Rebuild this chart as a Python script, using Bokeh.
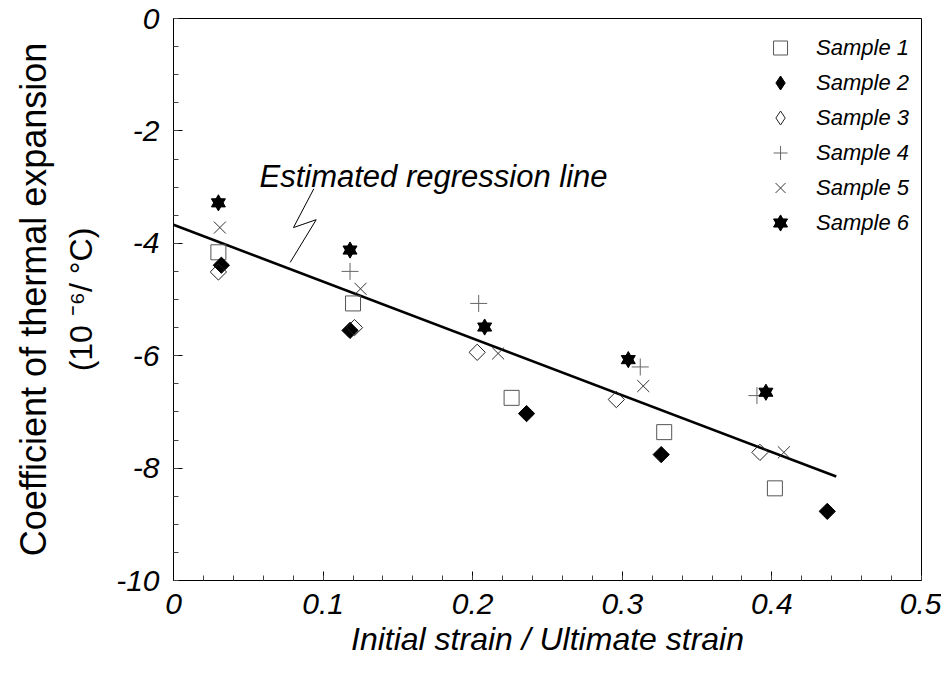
import numpy as np
from bokeh.plotting import figure
from bokeh.models import Range1d, Legend, LegendItem, Title, Label, FixedTicker
from bokeh.embed import file_html
from bokeh.resources import INLINE

# ---- data ----
s1_x = [0.030, 0.120, 0.226, 0.328, 0.402]
s1_y = [-4.16, -5.07, -6.75, -7.36, -8.36]
s2_x = [0.032, 0.118, 0.236, 0.326, 0.437]
s2_y = [-4.39, -5.55, -7.03, -7.76, -8.77]
s3_x = [0.030, 0.121, 0.203, 0.296, 0.392]
s3_y = [-4.51, -5.50, -5.94, -6.78, -7.72]
s4_x = [0.118, 0.204, 0.312, 0.390]
s4_y = [-4.50, -5.07, -6.20, -6.71]
s5_x = [0.031, 0.125, 0.217, 0.314, 0.408]
s5_y = [-3.72, -4.81, -5.96, -6.54, -7.72]
s6_x = [0.030, 0.118, 0.208, 0.304, 0.396]
s6_y = [-3.28, -4.12, -5.49, -6.07, -6.65]

reg_x = [0.0, 0.443]
reg_y = [-3.67, -8.15]

pointer_x = [0.0938, 0.0802, 0.0954, 0.0780]
pointer_y = [-3.03, -3.72, -3.58, -4.34]
note_text = "Estimated regression line"
note_x, note_y = 0.0575, -2.81

x_ticks = [0, 0.1, 0.2, 0.3, 0.4, 0.5]
x_tick_labels = ["0", "0.1", "0.2", "0.3", "0.4", "0.5"]
y_ticks = [0, -2, -4, -6, -8, -10]
y_tick_labels = ["0", "-2", "-4", "-6", "-8", "-10"]
labels = ["Sample 1", "Sample 2", "Sample 3", "Sample 4", "Sample 5", "Sample 6"]

FONT = "Liberation Sans"

p = figure(frame_width=748, frame_height=562,
           x_range=Range1d(0, 0.5), y_range=Range1d(-10, 0),
           output_backend="svg", toolbar_location=None,
           min_border_left=173, min_border_top=18,
           min_border_right=20, min_border_bottom=86,
           background_fill_color="white", border_fill_color="white")
p.grid.visible = False
p.outline_line_color = "black"
p.outline_line_width = 1

p.xaxis.ticker = FixedTicker(ticks=x_ticks,
                             minor_ticks=[round(v, 3) for v in np.arange(0, 0.5001, 0.02)])
p.yaxis.ticker = FixedTicker(ticks=y_ticks,
                             minor_ticks=[round(v, 2) for v in np.arange(-10, 0.001, 0.5)])
p.xaxis.major_label_overrides = dict(zip(x_ticks, x_tick_labels))
p.yaxis.major_label_overrides = dict(zip(y_ticks, y_tick_labels))

for ax in (p.xaxis[0], p.yaxis[0]):
    ax.major_tick_in = 9
    ax.major_tick_out = 0
    ax.minor_tick_in = 5
    ax.minor_tick_out = 0
    ax.axis_line_color = "black"
    ax.major_tick_line_color = "black"
    ax.minor_tick_line_color = "#444444"
    ax.major_label_text_font = FONT
    ax.major_label_text_font_style = "italic"
    ax.major_label_text_font_size = "30px"
    ax.major_label_text_color = "black"

p.xaxis.major_label_standoff = 13
p.yaxis.major_label_standoff = 14

p.xaxis.axis_label = "Initial strain / Ultimate strain"
p.xaxis.axis_label_text_font = FONT
p.xaxis.axis_label_text_font_style = "italic"
p.xaxis.axis_label_text_font_size = "32px"
p.xaxis.axis_label_text_color = "black"
p.xaxis.axis_label_standoff = 4

p.yaxis.axis_label = "(10 \u207b\u2076/ \u00b0C)"
p.yaxis.axis_label_text_font = FONT
p.yaxis.axis_label_text_font_style = "normal"
p.yaxis.axis_label_text_font_size = "32px"
p.yaxis.axis_label_text_color = "black"
p.yaxis.axis_label_standoff = 14

p.add_layout(Title(text="Coefficient of thermal expansion", align="center",
                   text_font=FONT, text_font_style="normal", standoff=14,
                   text_font_size="36px", text_color="black"), "left")

# regression line and pointer
p.line(reg_x, reg_y, line_color="black", line_width=2.6)
p.line(pointer_x, pointer_y, line_color="black", line_width=1)
p.add_layout(Label(x=note_x, y=note_y, text=note_text, text_font=FONT,
                   text_font_style="italic", text_font_size="31px",
                   text_color="black", text_baseline="alphabetic"))

# samples
r1 = p.scatter(s1_x, s1_y, marker="square", size=15, fill_color=None,
               line_color="#555555", line_width=1)
r2 = p.scatter(s2_x, s2_y, marker="square", angle=np.pi / 4, size=11.5,
               fill_color="black", line_color="black", line_width=1)
r3 = p.scatter(s3_x, s3_y, marker="square", angle=np.pi / 4, size=11.5,
               fill_color=None, line_color="#222222", line_width=1)
r4 = p.scatter(s4_x, s4_y, marker="cross", size=17, line_color="#666666",
               line_width=1)
r5 = p.scatter(s5_x, s5_y, marker="x", size=17, line_color="#333333",
               line_width=1)
r6a = p.scatter(s6_x, s6_y, marker="triangle", size=14, fill_color="black",
                line_color="black")
r6b = p.scatter(s6_x, s6_y, marker="inverted_triangle", size=14,
                fill_color="black", line_color="black")

# legend-only diamond glyphs (the legend draws markers unrotated);
# a single NaN point keeps them invisible on the plot
l2 = p.scatter([np.nan], [np.nan], marker="diamond", fill_color="black",
               line_color="black")
l3 = p.scatter([np.nan], [np.nan], marker="diamond", fill_color=None,
               line_color="#222222")

legend = Legend(items=[
    LegendItem(label=labels[0], renderers=[r1]),
    LegendItem(label=labels[1], renderers=[l2]),
    LegendItem(label=labels[2], renderers=[l3]),
    LegendItem(label=labels[3], renderers=[r4]),
    LegendItem(label=labels[4], renderers=[r5]),
    LegendItem(label=labels[5], renderers=[r6a, r6b]),
], location="top_right")
legend.border_line_color = None
legend.background_fill_alpha = 0
legend.label_text_font = FONT
legend.label_text_font_style = "italic"
legend.label_text_font_size = "22px"
legend.label_text_color = "black"
legend.glyph_width = 36
legend.glyph_height = 35
legend.label_height = 35
legend.label_standoff = 18
legend.spacing = 0
legend.margin = 12
legend.padding = 19
p.add_layout(legend)

open("out.html", "w").write(file_html(p, INLINE))
